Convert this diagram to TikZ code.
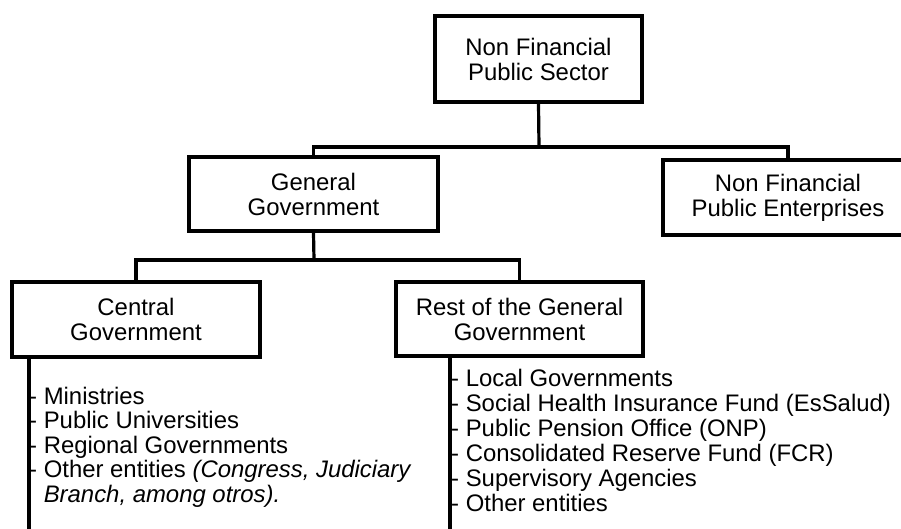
\documentclass[tikz,border=0pt]{standalone}
\usepackage{fontspec}
\setmainfont{Liberation Sans}
\newcommand\diafont{\fontsize{23.9}{25}\selectfont}
\begin{document}
\begin{tikzpicture}[x=1pt,y=-1pt,
  box/.style={draw=black, line width=3.2pt, fill=white, align=center, inner sep=0pt, font=\diafont},
  conn/.style={draw=black, line width=3.2pt},
  item/.style={anchor=base west, inner sep=0pt, font=\diafont}]
\clip (0,0) rectangle (901,529);
\fill[white] (0,0) rectangle (901,529);
% boxes
\node[box, minimum width=207, minimum height=86] (nfps) at (538.5,59) {Non Financial\\Public Sector};
\node[box, minimum width=249, minimum height=74] (gg) at (313.5,194) {General\\Government};
\node[box, minimum width=250, minimum height=75] (nfpe) at (788,197.5) {Non Financial\\Public Enterprises};
\node[box, minimum width=248, minimum height=75] (cg) at (136,319.5) {Central\\Government};
\node[box, minimum width=247, minimum height=74] (rgg) at (519.5,319) {Rest of the General\\Government};
% connectors
\coordinate (j1) at (539,147);
\draw[conn] (nfps.south) -- (j1);
\draw[conn] (gg.north) |- (j1) -| (nfpe.north);
\coordinate (j2) at (314,260);
\draw[conn] (gg.south) -- (j2);
\draw[conn] (cg.north) |- (j2) -| (rgg.north);
% list lines
\coordinate (cgend) at (29,535);
\coordinate (rend) at (450,535);
\draw[conn] (cg.south -| cgend) -- (cgend);
\draw[conn] (rgg.south -| rend) -- (rend);
% central government items
\node[item] (c1) at (29,404) {- Ministries};
\node[item] (c2) at (29,428.5) {- Public Universities};
\node[item] (c3) at (29,453) {- Regional Governments};
\node[item] (c4) at (29,477.5) {- Other entities \textit{(Congress, Judiciary}};
\node[item] (c5) at (29,502) {\hphantom{-\ }\textit{Branch, among otros).}};
% rest items
\node[item] (r1) at (451,386) {- Local Governments};
\node[item] (r2) at (451,411) {- Social Health Insurance Fund (EsSalud)};
\node[item] (r3) at (451,436) {- Public Pension Office (ONP)};
\node[item] (r4) at (451,461) {- Consolidated Reserve Fund (FCR)};
\node[item] (r5) at (451,486) {- Supervisory Agencies};
\node[item] (r6) at (451,511) {- Other entities};
\end{tikzpicture}
\end{document}
